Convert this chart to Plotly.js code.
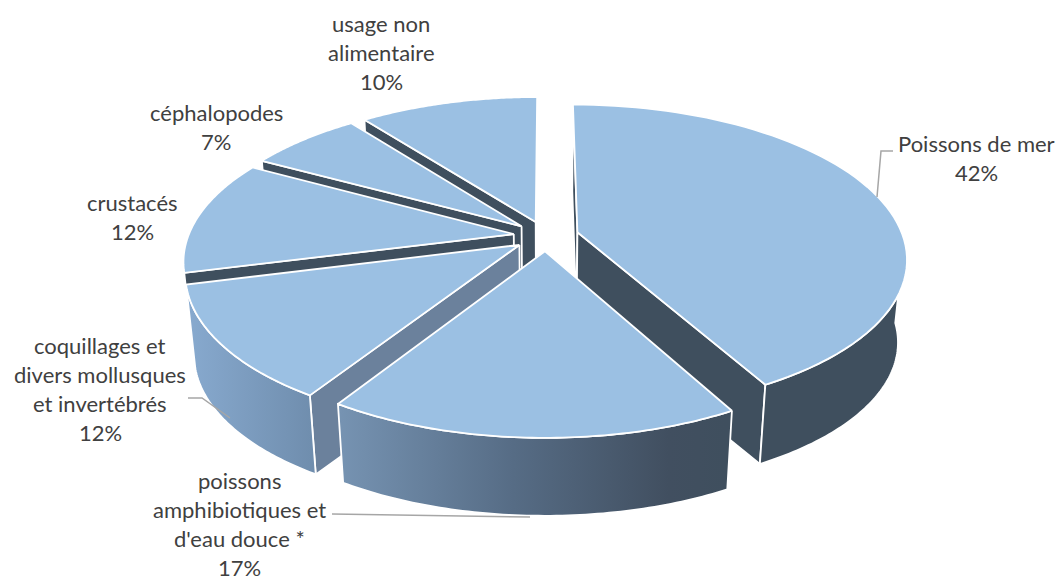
<!DOCTYPE html>
<html>
<head>
<meta charset="utf-8">
<script src="https://cdn.plot.ly/plotly-3.0.1.min.js"></script>
<style>html,body{margin:0;padding:0;background:#fff}#chart{width:1060px;height:582px}</style>
</head>
<body>
<div id="chart"></div>
<script>
// Data
var categories = ["Poissons de mer", "poissons amphibiotiques et d'eau douce *", "coquillages et divers mollusques et invertébrés", "crustacés", "céphalopodes", "usage non alimentaire"];
var values = [42, 17, 12, 12, 6.6, 10.4];
var labelLines = [["Poissons de mer"], ["poissons", "amphibiotiques et", "d'eau douce *"], ["coquillages et", "divers mollusques", "et invertébrés"], ["crustacés"], ["céphalopodes"], ["usage non", "alimentaire"]];

// Layout of labels and leaders (pixels of the picture)
var labelX = [976, 239, 100, 132, 216, 381];
var labelY = [143, 480, 345, 202, 112, 23];
var lineStep = 29.3;
var leaders = [
  {x: [877, 881, 893], y: [197, 151, 151]},
  {x: [332, 530], y: [514, 517]},
  {x: [188, 202, 230], y: [398, 398, 418]}
];

// Look
var topColor = "#9bc0e3", dark = "#3f4f5e", cutColor = "#6b819c", textColor = "#404040";
var outerFill = [
  {fillcolor: dark},
  {stops: [[0, "#7693b2"], [0.45, "#566c85"], [0.85, "#414f60"], [1, dark]], start: 340, stop: 726},
  {stops: [[0, "#87a9ce"], [1, "#6f8dad"]], start: 190, stop: 315}
];
var cutFill = [dark, dark, cutColor, dark, dark, dark];

// Perspective projection of the tilted disc
var X0 = 546, Y0 = 236, A = 325.5, B = 150, K = 0.166, EXPL = 0.1, S = 0.975, DEPTH = 83;
function proj(u, v, low) {
  var w = 1 + K * v, x = A * u / w, y = -B * v / w;
  if (low) { x *= S; y = y * S + DEPTH; }
  return [X0 + x, Y0 + y];
}
var total = values.reduce(function (a, b) { return a + b; }, 0);
var cum = 0;
var slices = values.map(function (v, i) {
  var a0 = cum / total * 2 * Math.PI; cum += v;
  var a1 = cum / total * 2 * Math.PI, m = (a0 + a1) / 2;
  return {i: i, a0: a0, a1: a1, ox: EXPL * Math.sin(m), oy: EXPL * Math.cos(m)};
});
function rim(s, a, low) { return proj(s.ox + Math.sin(a), s.oy + Math.cos(a), low); }
function apex(s, low) { return proj(s.ox, s.oy, low); }
function arc(s, a0, a1, low) {
  var pts = [], n = 70;
  for (var k = 0; k <= n; k++) pts.push(rim(s, a0 + (a1 - a0) * k / n, low));
  return pts;
}
function poly(pts, style, name) {
  var closed = pts.concat([pts[0]]);
  return Object.assign({
    type: "scatter", mode: "lines", fill: "toself", name: name, hoverinfo: "skip", showlegend: false,
    x: closed.map(function (p) { return p[0]; }), y: closed.map(function (p) { return p[1]; }),
    line: {color: "#ffffff", width: 1.8, simplify: false}
  }, style);
}
var traces = [];
// Back to front
[5, 4, 3, 2, 0, 1].forEach(function (i) {
  var s = slices[i], name = categories[i];
  // side cuts
  [s.a0, s.a1].forEach(function (a, j) {
    var col = (i === 0 && j === 1) || i > 1 ? cutFill[i] : dark;
    if (i === 2 && j === 1) return;
    if (i === 1) return;
    if (i > 2 && j === 1) return;
    traces.push(poly([apex(s), rim(s, a), rim(s, a, true), apex(s, true)], {fillcolor: col}, name));
  });
  // outer wall, from the right-hand silhouette tangent onwards
  var lo = Math.max(s.a0, 93 * Math.PI / 180), hi = Math.min(s.a1, 255 * Math.PI / 180);
  if (hi > lo && outerFill[i]) {
    var wall = arc(s, lo, hi, false).concat(arc(s, lo, hi, true).reverse());
    var f = outerFill[i], st = {};
    if (f.fillcolor) st.fillcolor = f.fillcolor;
    else st.fillgradient = {type: "horizontal", start: f.start, stop: f.stop, colorscale: f.stops};
    traces.push(poly(wall, st, name));
  }
  // top
  traces.push(poly([apex(s)].concat(arc(s, s.a0, s.a1, false)), {fillcolor: topColor}, name));
});
leaders.forEach(function (l) {
  traces.push({type: "scatter", mode: "lines", x: l.x, y: l.y, hoverinfo: "skip", showlegend: false,
    line: {color: "#a6a6a6", width: 1.5}});
});

var annotations = [];
categories.forEach(function (c, i) {
  labelLines[i].concat([Math.round(values[i]) + "%"]).forEach(function (t, k) {
    annotations.push({x: labelX[i], y: labelY[i] + k * lineStep, xref: "x", yref: "y", text: t,
      showarrow: false, xanchor: "center", yanchor: "middle",
      font: {family: "Lato, 'Open Sans', sans-serif", size: 22, color: textColor}});
  });
});

Plotly.newPlot("chart", traces, {
  width: 1060, height: 582, margin: {l: 0, r: 0, t: 0, b: 0},
  paper_bgcolor: "#ffffff", plot_bgcolor: "#ffffff", showlegend: false,
  xaxis: {range: [0, 1060], visible: false, fixedrange: true},
  yaxis: {range: [582, 0], visible: false, fixedrange: true},
  annotations: annotations
}, {displayModeBar: false, staticPlot: true});
</script>
</body>
</html>
